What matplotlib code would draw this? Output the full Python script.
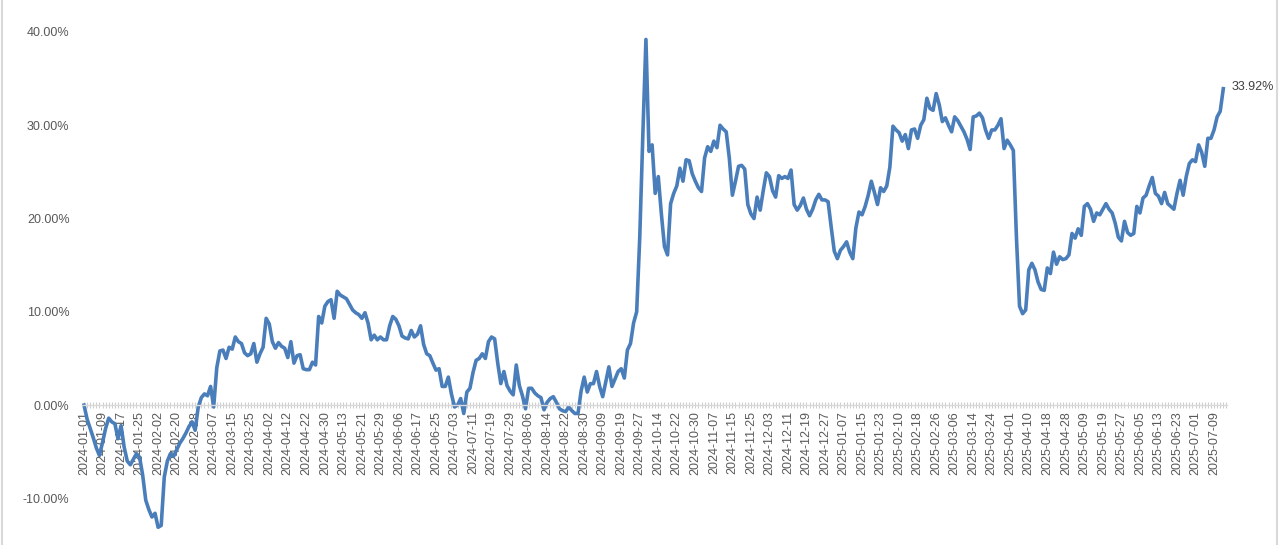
import matplotlib
matplotlib.use("Agg")
import matplotlib.pyplot as plt
from matplotlib.ticker import PercentFormatter, FixedLocator, MultipleLocator
from matplotlib.lines import Line2D
import numpy as np

plt.rcParams['font.family'] = ['Liberation Sans', 'DejaVu Sans']
plt.rcParams['axes.unicode_minus'] = False

# cumulative return (%), one value per trading day
returns_pct = [
    0.0, -1.5, -2.5, -3.5, -4.6, -5.4, -4.0, -2.5, -1.4, -1.8,
    -2.0, -3.6, -2.2, -4.5, -6.0, -6.4, -5.8, -5.2, -5.6, -7.5,
    -10.2, -11.2, -12.0, -11.6, -13.1, -12.9, -7.7, -6.0, -5.2, -5.5,
    -4.8, -4.1, -3.6, -3.0, -2.3, -1.8, -2.7, -0.2, 0.8, 1.2,
    1.0, 2.0, -0.2, 4.0, 5.8, 5.9, 5.0, 6.2, 6.0, 7.3,
    6.8, 6.6, 5.6, 5.3, 5.5, 6.6, 4.6, 5.5, 6.2, 9.3,
    8.7, 6.8, 6.1, 6.7, 6.3, 6.1, 5.1, 6.8, 4.5, 5.3,
    5.4, 3.9, 3.8, 3.8, 4.6, 4.3, 9.5, 8.8, 10.6, 11.1,
    11.3, 9.3, 12.2, 11.8, 11.6, 11.4, 10.8, 10.2, 9.9, 9.7,
    9.3, 9.9, 8.8, 7.0, 7.5, 7.0, 7.3, 7.0, 7.0, 8.5,
    9.5, 9.2, 8.5, 7.4, 7.2, 7.1, 8.0, 7.3, 7.6, 8.5,
    6.5, 5.5, 5.3, 4.5, 3.75, 3.9, 2.0, 2.0, 3.0, 1.2,
    -0.2, 0.0, 0.7, -0.9, 1.4, 1.8, 3.5, 4.8, 5.0, 5.5,
    5.0, 6.8, 7.3, 7.1, 4.5, 2.3, 3.6, 2.1, 1.5, 1.1,
    4.3, 2.1, 1.0, -0.4, 1.8, 1.8, 1.3, 1.0, 0.8, -0.5,
    0.3, 0.7, 0.9, 0.3, -0.4, -0.6, -0.7, -0.2, -0.6, -0.9,
    -0.9, 1.5, 3.0, 1.4, 2.3, 2.3, 3.6, 2.0, 0.9, 2.5,
    4.1, 2.0, 2.8, 3.6, 3.9, 2.9, 5.9, 6.6, 8.8, 10.0,
    18.0, 29.0, 39.2, 27.2, 27.9, 22.7, 24.5, 20.5, 17.0, 16.1,
    21.6, 22.7, 23.5, 25.4, 24.0, 26.3, 26.2, 24.8, 24.0, 23.3,
    22.9, 26.5, 27.7, 27.2, 28.3, 27.6, 30.0, 29.6, 29.3, 26.5,
    22.5, 24.0, 25.6, 25.7, 25.3, 21.5, 20.5, 20.0, 22.3, 20.9,
    23.0, 24.9, 24.5, 23.0, 22.3, 24.6, 24.3, 24.5, 24.3, 25.2,
    21.5, 20.9, 21.4, 22.2, 21.0, 20.3, 21.0, 22.0, 22.6, 22.0,
    22.0, 21.8, 19.1, 16.5, 15.7, 16.6, 17.0, 17.5, 16.4, 15.7,
    19.0, 20.7, 20.4, 21.3, 22.5, 24.0, 22.8, 21.5, 23.3, 22.9,
    23.5, 25.5, 29.9, 29.5, 29.2, 28.3, 29.0, 27.5, 29.5, 29.6,
    28.6, 30.0, 30.6, 32.9, 31.8, 31.6, 33.4, 32.2, 30.4, 30.8,
    30.0, 29.3, 30.9, 30.5, 29.9, 29.3, 28.5, 27.4, 30.9, 31.0,
    31.3, 30.8, 29.5, 28.6, 29.5, 29.5, 30.0, 30.7, 27.5, 28.4,
    27.9, 27.3, 18.0, 10.6, 9.8, 10.2, 14.5, 15.2, 14.5, 13.2,
    12.4, 12.3, 14.7, 14.1, 16.4, 15.1, 15.9, 15.6, 15.7, 16.1,
    18.4, 17.9, 18.9, 18.2, 21.3, 21.6, 21.0, 19.7, 20.6, 20.4,
    21.0, 21.6, 21.0, 20.6, 19.5, 18.0, 17.6, 19.7, 18.5, 18.2,
    18.4, 21.3, 20.6, 22.2, 22.5, 23.5, 24.4, 22.7, 22.4, 21.6,
    22.8, 21.6, 21.3, 21.0, 22.7, 24.1, 22.5, 24.5, 25.9, 26.3,
    26.1, 27.9, 27.1, 25.6, 28.6, 28.6, 29.5, 30.9, 31.5, 33.92,
]

# category labels shown every 6 trading days
tick_labels = [
    "2024-01-01", "2024-01-09", "2024-01-17", "2024-01-25", "2024-02-02",
    "2024-02-20", "2024-02-28", "2024-03-07", "2024-03-15", "2024-03-25",
    "2024-04-02", "2024-04-12", "2024-04-22", "2024-04-30", "2024-05-13",
    "2024-05-21", "2024-05-29", "2024-06-06", "2024-06-17", "2024-06-25",
    "2024-07-03", "2024-07-11", "2024-07-19", "2024-07-29", "2024-08-06",
    "2024-08-14", "2024-08-22", "2024-08-30", "2024-09-09", "2024-09-19",
    "2024-09-27", "2024-10-14", "2024-10-22", "2024-10-30", "2024-11-07",
    "2024-11-15", "2024-11-25", "2024-12-03", "2024-12-11", "2024-12-19",
    "2024-12-27", "2025-01-07", "2025-01-15", "2025-01-23", "2025-02-10",
    "2025-02-18", "2025-02-26", "2025-03-06", "2025-03-14", "2025-03-24",
    "2025-04-01", "2025-04-10", "2025-04-18", "2025-04-28", "2025-05-09",
    "2025-05-19", "2025-05-27", "2025-06-05", "2025-06-13", "2025-06-23",
    "2025-07-01", "2025-07-09",
]
label_step = 6

values = np.array(returns_pct) / 100.0
idx = np.arange(len(values))

fig = plt.figure(figsize=(12.8, 5.45), dpi=100)
ax = fig.add_axes([82 / 1280, 0.0, (1227 - 82) / 1280, (545 - 32) / 545])

# x axis sits on the 0% line (set before tick styling, it resets the ticks)
for side in ['top', 'right', 'left']:
    ax.spines[side].set_visible(False)
ax.spines['bottom'].set_position(('data', 0))
ax.spines['bottom'].set_color('#d9d9d9')
ax.spines['bottom'].set_linewidth(1.0)

ax.plot(idx, values, color='#4a7ebb', linewidth=2.6, solid_joinstyle='round')

ax.set_xlim(-0.65, 370.2)
ax.set_ylim(-0.15, 0.40)

ax.yaxis.set_major_locator(FixedLocator([-0.10, 0.0, 0.10, 0.20, 0.30, 0.40]))
ax.yaxis.set_major_formatter(PercentFormatter(1.0, decimals=2))
ax.tick_params(axis='y', length=0, pad=9, labelsize=9, labelcolor='#595959')

ax.set_xticks(np.arange(0, len(tick_labels) * label_step, label_step))
ax.set_xticklabels(tick_labels)
ax.xaxis.set_minor_locator(MultipleLocator(1))
ax.tick_params(axis='x', which='both', direction='inout', length=5, width=0.8,
               color='#d0d0d0', labelsize=9, labelcolor='#595959', pad=2,
               labelrotation=90)

ax.annotate(f"{returns_pct[-1]:.2f}%", xy=(idx[-1], values[-1]),
            xytext=(6, 1), textcoords='offset points',
            ha='left', va='center', fontsize=9, color='#404040')

# light frame edges of the chart area
fig.add_artist(Line2D([0.0015, 0.0015], [0, 1], color='#d9d9d9', linewidth=1.5))
fig.add_artist(Line2D([0.9975, 0.9975], [0, 1], color='#d9d9d9', linewidth=1.5))

fig.savefig("out.png", dpi=100)
